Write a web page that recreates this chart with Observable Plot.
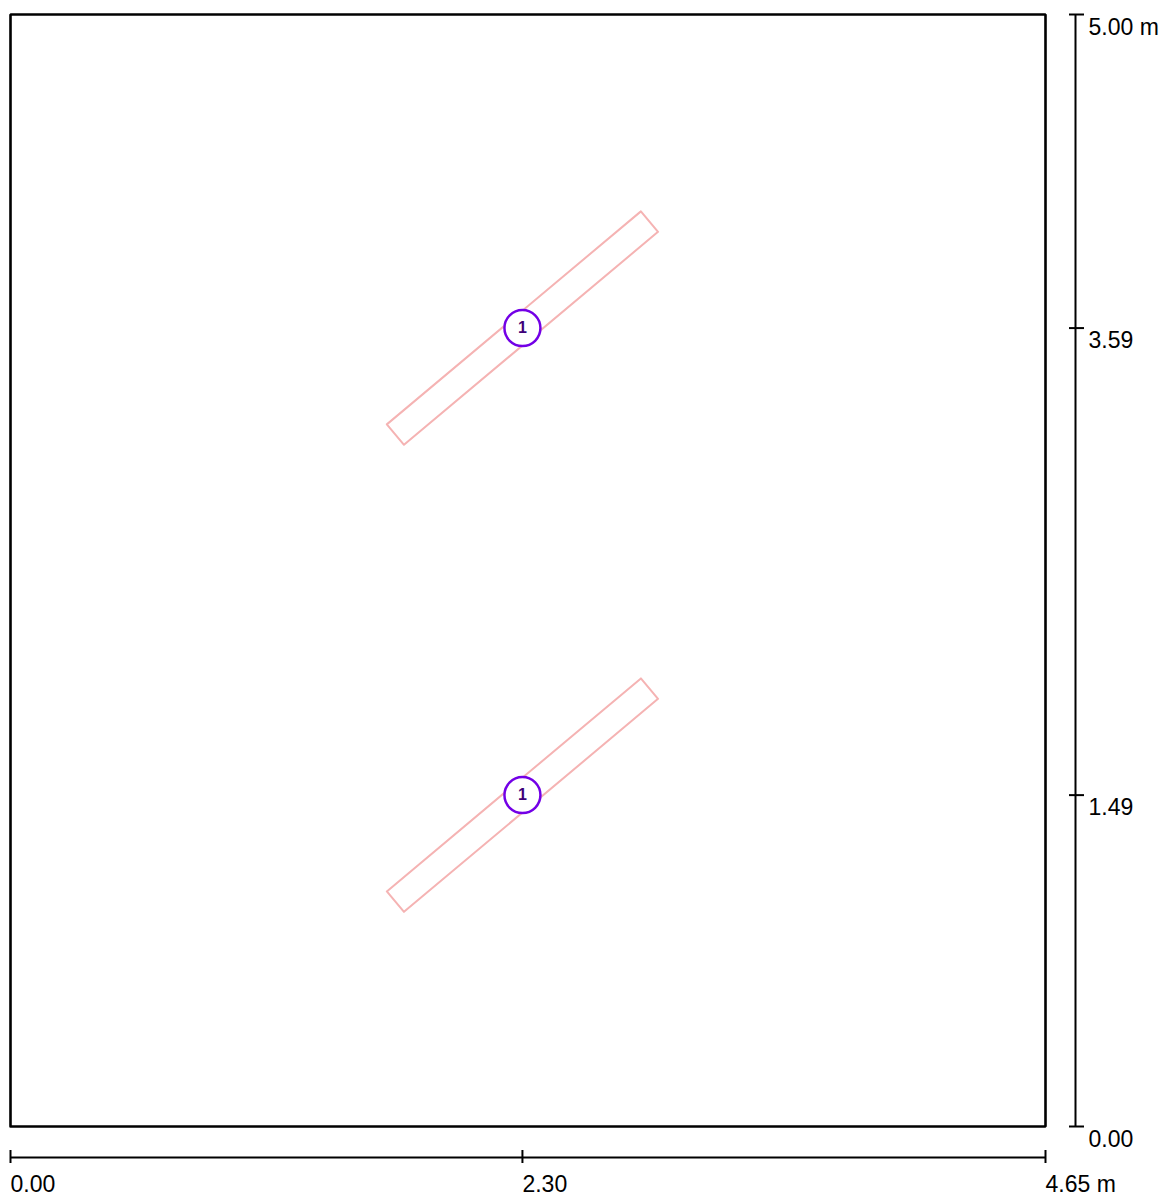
<!DOCTYPE html>
<html>
<head>
<meta charset="utf-8">
<script src="https://cdn.jsdelivr.net/npm/d3@7"></script>
<script src="https://cdn.jsdelivr.net/npm/@observablehq/plot@0.6"></script>
<style>
  html, body { margin: 0; padding: 0; background: #fff; }
  #chart svg { display: block; }
</style>
</head>
<body>
<div id="chart"></div>
<script>
// Axis ticks (metres)
const xTicks = [0, 2.30, 4.65];
const yTicks = [0, 1.49, 3.59, 5.00];

// Room outline vertices (metres)
const roomX = [0, 0, 3.86, 4.65, 4.65, 0];
const roomY = [0, 5.00, 5.00, 5.00, 0, 0];

// Fixtures (luminaires): id, centre, length, width, rotation (deg)
const fixtureIds = ["1", "1"];
const fixtureX = [2.30, 2.30];
const fixtureY = [3.59, 1.49];
const fixtureLength = [1.49, 1.49];
const fixtureWidth = [0.12, 0.12];
const fixtureAngle = [40, 40];

// Build tables
const room = roomX.map((x, i) => ({x, y: roomY[i]}));
const fixtures = fixtureIds.map((id, i) => ({
  id, x: fixtureX[i], y: fixtureY[i],
  L: fixtureLength[i], W: fixtureWidth[i], a: fixtureAngle[i], k: i
}));
const outlines = fixtures.flatMap(f => {
  const t = f.a * Math.PI / 180;
  const ux = Math.cos(t) * f.L / 2, uy = Math.sin(t) * f.L / 2;
  const vx = -Math.sin(t) * f.W / 2, vy = Math.cos(t) * f.W / 2;
  const signs = [[1, 1], [1, -1], [-1, -1], [-1, 1], [1, 1]];
  return signs.map(([s, r]) => ({k: f.k, x: f.x + s * ux + r * vx, y: f.y + s * uy + r * vy}));
});

const font = "Arial, 'Liberation Sans', sans-serif";
const fmtY = d => d === 5 ? "5.00 m" : d.toFixed(2);

const chart = Plot.plot({
  width: 1165,
  height: 1198,
  marginLeft: 10,
  marginRight: 120,
  marginTop: 14,
  marginBottom: 72,
  style: {fontFamily: font, background: "#fff", color: "#000"},
  x: {domain: [0, 4.65]},
  y: {domain: [0, 5.00]},
  marks: [
    // room outline
    Plot.line(room, {x: "x", y: "y", stroke: "#000", strokeWidth: 2.6, strokeLinejoin: "miter"}),
    // fixture outlines
    Plot.line(outlines, {x: "x", y: "y", z: "k", stroke: "#f5b3b3", strokeWidth: 2}),
    // fixture markers
    Plot.dot(fixtures, {x: "x", y: "y", r: 18, fill: "#fff", stroke: "#7300e6", strokeWidth: 2.5}),
    Plot.text(fixtures, {x: "x", y: "y", text: "id", fill: "#3d0078", fontSize: 16, fontWeight: "bold", fontFamily: font}),
    // bottom dimension axis
    Plot.ruleY([0], {x1: 0, x2: 4.65, dy: 31, stroke: "#000", strokeWidth: 2}),
    Plot.axisX({
      ticks: xTicks,
      tickFormat: d => d === 4.65 ? "4.65 m" : d.toFixed(2),
      tickSize: 13, tickPadding: 12, dy: 24,
      textAnchor: "start", fontSize: 23, strokeWidth: 2,
      label: null
    }),
    // right dimension axis
    Plot.ruleX([4.65], {y1: 0, y2: 5.00, dx: 30, stroke: "#000", strokeWidth: 2}),
    Plot.axisY({
      anchor: "right",
      ticks: yTicks,
      tickFormat: () => "",
      tickSize: 15, tickPadding: 5, dx: 23,
      strokeWidth: 2,
      label: null
    }),
    Plot.text(yTicks, {x: () => 4.65, y: d => d, text: fmtY, dx: 43, dy: 13, textAnchor: "start", fontSize: 23, fill: "#000", fontFamily: font})
  ]
});

document.getElementById("chart").appendChild(chart);
</script>
</body>
</html>
